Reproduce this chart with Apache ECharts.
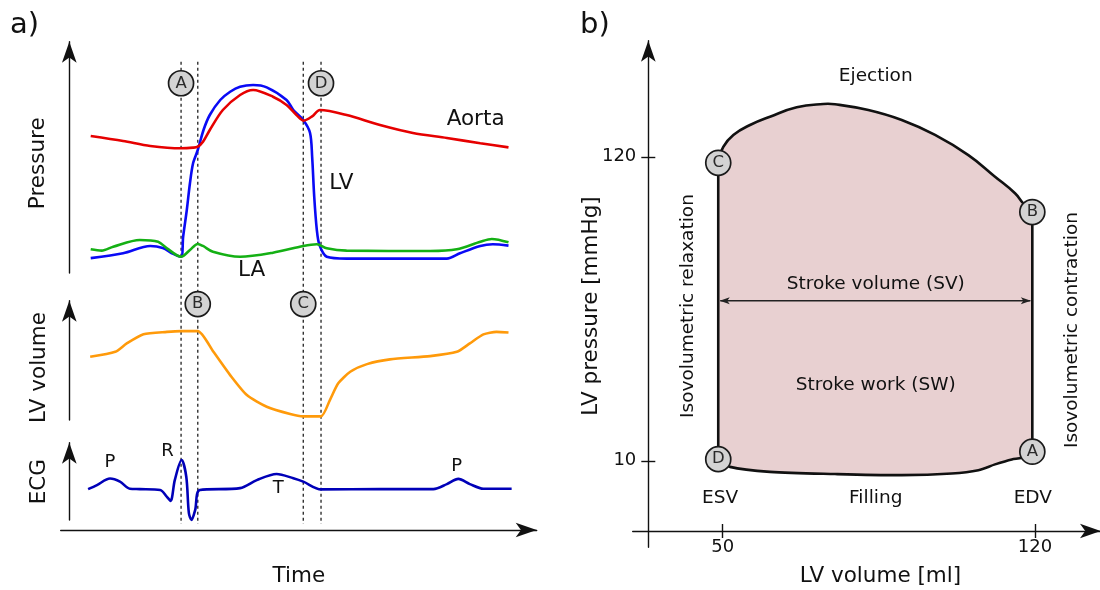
<!DOCTYPE html>
<html>
<head>
<meta charset="utf-8">
<script src="https://cdn.jsdelivr.net/npm/echarts@6/dist/echarts.min.js"></script>
<style>
  html, body { margin: 0; padding: 0; background: #ffffff; }
  #chart { width: 1100px; height: 590px; }
</style>
</head>
<body>
<div id="chart"></div>
<script>
// ---------- a) Wiggers diagram: one cardiac cycle, time in ms ----------
const eventNames = ['A', 'B', 'C', 'D'];
const eventTimes = [174, 206, 408, 442];          // mitral closes, aortic opens, aortic closes, mitral opens

const aortaTime = [1, 63, 115, 174, 197, 206, 216, 229, 254, 287, 312, 350, 376, 395, 409, 425, 440, 491, 555, 618, 683, 747, 801];
const aortaPressure = [87.7, 84.5, 81.3, 79.8, 80.2, 80.8, 84.0, 91.5, 104.3, 113.9, 117.1, 112.8, 107.5, 101.1, 97.5, 100.2, 104.3, 101.1, 94.7, 89.6, 86.4, 83.0, 80.4];

const lvTime = [1, 63, 115, 139, 159, 174, 178, 185, 191, 197, 206, 217, 229, 249, 268, 287, 312, 338, 376, 389, 408, 421, 425, 429, 434, 439, 453, 491, 683, 708, 747, 771, 801];
const lvPressure = [9.5, 12.6, 17.3, 16.0, 12.2, 10.4, 23.2, 40.3, 57.4, 70.2, 78.7, 91.5, 101.1, 110.7, 116.0, 119.2, 120.3, 118.8, 110.7, 104.3, 97.9, 89.6, 74.5, 48.8, 27.5, 17.9, 10.4, 9.2, 9.2, 12.6, 17.3, 18.4, 17.5];

const laTime = [1, 22, 44, 95, 130, 147, 174, 191, 206, 216, 235, 287, 350, 408, 434, 453, 491, 651, 702, 747, 769, 801];
const laPressure = [15.2, 14.3, 16.8, 21.1, 20.0, 15.8, 10.4, 14.7, 18.6, 17.3, 13.6, 10.4, 13.0, 17.3, 18.4, 15.8, 14.3, 14.1, 15.2, 20.0, 21.8, 19.6];

const volumeTime = [0, 48, 70, 102, 147, 174, 206, 236, 268, 300, 338, 383, 408, 442, 459, 475, 498, 530, 574, 651, 702, 727, 753, 778, 801];
const lvVolume = [98.9, 103.0, 109.9, 117.5, 119.4, 120, 120, 103.0, 83.9, 67.5, 57.9, 51.9, 50, 50, 63.4, 77.1, 86.6, 92.9, 96.8, 99.5, 103.0, 109.9, 117.3, 119.4, 118.9];

const ecgTime = [-4, 13, 38, 57, 76, 95, 134, 147, 154, 162, 175, 184, 189, 194, 201, 210, 287, 319, 357, 389, 408, 442, 555, 657, 683, 705, 727, 753, 807];
const ecgValue = [0, 0.13, 0.34, 0.24, 0.01, 0, -0.03, -0.25, -0.38, 0.29, 0.94, 0.40, -0.78, -1.0, -0.68, -0.03, 0.03, 0.29, 0.49, 0.35, 0.24, -0.01, 0, 0, 0.16, 0.33, 0.16, 0.01, 0.01];

// ---------- b) pressure-volume loop ----------
const ejectionVolume = [49.0, 50.13, 52.38, 56.12, 60.6, 66.59, 72.55, 75.17, 82.64, 90.13, 97.59, 105.06, 111.04, 115.52, 117.38, 119.4];
const ejectionPressure = [117.8, 123.6, 127.9, 131.5, 134.5, 137.9, 139.1, 139.0, 136.9, 133.3, 127.9, 120.6, 112.8, 106.8, 103.1, 100.0];
const fillingVolume = [119.4, 117.03, 114.79, 111.04, 107.3, 101.33, 90.13, 75.17, 60.6, 51.64, 49.0];
const fillingPressure = [13.3, 11.1, 10.5, 8.7, 6.6, 5.4, 4.8, 5.2, 6.0, 7.8, 10.6];
const loopPointNames = ['A', 'B', 'C', 'D'];
const loopPointVolume = [119.4, 119.4, 49.0, 49.0];
const loopPointPressure = [13.3, 100.0, 117.8, 10.6];
const volumeTicks = [50, 120];
const pressureTicks = [10, 120];

// ---------- annotation anchors (in data units) ----------
const pressureNotes = [
  { name: 'Aorta', value: [738, 98.4] },
  { name: 'LV', value: [481, 57.4] },
  { name: 'LA', value: [309, 1.9] }
];
const ecgNotes = [
  { name: 'P', value: [38, 0.85] },
  { name: 'R', value: [148, 1.23] },
  { name: 'T', value: [360, 0.03] },
  { name: 'P', value: [702, 0.75] }
];
const eventMarkPressure = 121.4;   // circles A / D sit above the pressure traces
const eventMarkVolume = 142.2;     // circles B / C sit above the volume trace
const svArrowPressure = 67.9;
const loopNotes = [
  { name: 'Ejection', value: [84.3, 149.0] },
  { name: 'Stroke volume (SV)', value: [84.3, 73.8] },
  { name: 'Stroke work (SW)', value: [84.3, 37.2] },
  { name: 'Filling', value: [84.3, -3.6] },
  { name: 'ESV', value: [49.4, -3.7] },
  { name: 'EDV', value: [119.5, -3.7] },
  { name: 'Isovolumetric relaxation', value: [42.3, 66.0], label: { rotate: 90 } },
  { name: 'Isovolumetric contraction', value: [128.4, 57.3], label: { rotate: 90 } }
];

const FONT = 'DejaVu Sans';
const INK = '#111111';
const zip = (xs, ys) => xs.map((x, i) => [x, ys[i]]);

const arrowLine = {
  show: true, onZero: false,
  symbol: ['none', 'arrow'], symbolSize: [11, 21], symbolOffset: [0, 0],
  lineStyle: { color: INK, width: 1.4 }
};
const off = { show: false };
function hiddenAxis(gridIndex, min, max) {
  return { type: 'value', gridIndex, min, max, show: false, axisLine: { show: false, onZero: false }, splitLine: off };
}
function arrowAxis(gridIndex, min, max, position) {
  return { type: 'value', gridIndex, min, max, position, axisLine: arrowLine, axisTick: off, axisLabel: off, splitLine: off };
}
function trace(xi, times, values, color, z, smooth) {
  return {
    type: 'line', xAxisIndex: xi, yAxisIndex: xi, data: zip(times, values),
    symbol: 'none', showSymbol: false, smooth: smooth || 0.3, clip: false, silent: true, z,
    lineStyle: { color, width: 2.6 }, emphasis: { disabled: true }
  };
}
function textMarks(xi, data, size, z) {
  return {
    type: 'scatter', xAxisIndex: xi, yAxisIndex: xi, data, symbolSize: 1, silent: true, z,
    itemStyle: { color: 'transparent', opacity: 1 },
    label: { show: true, position: 'inside', formatter: '{b}', fontSize: size, fontFamily: FONT, color: INK, opacity: 1 },
    emphasis: { disabled: true }
  };
}
function circleMarks(xi, data, z) {
  return {
    type: 'scatter', xAxisIndex: xi, yAxisIndex: xi, data, symbol: 'circle', symbolSize: 25, silent: true, z,
    itemStyle: { color: '#d3d3d3', borderColor: '#1a1a1a', borderWidth: 1.7, opacity: 1 },
    label: { show: true, position: 'inside', formatter: '{b}', fontSize: 16.5, fontFamily: FONT, color: '#2a2a2a' },
    emphasis: { disabled: true }
  };
}
const gridBase = { show: false, containLabel: false, outerBoundsMode: 'none' };

const option = {
  animation: false,
  backgroundColor: '#ffffff',
  textStyle: { fontFamily: FONT },
  grid: [
    Object.assign({ left: 69.3, top: 41.7, width: 467.4, height: 231.3 }, gridBase),  // pressure
    Object.assign({ left: 69.3, top: 300.7, width: 467.4, height: 119.3 }, gridBase), // LV volume
    Object.assign({ left: 69.3, top: 442.7, width: 467.4, height: 77.3 }, gridBase),  // ECG
    Object.assign({ left: 60.7, top: 41.7, width: 476.0, height: 488.3 }, gridBase),  // time axis
    Object.assign({ left: 648.3, top: 40.7, width: 451.7, height: 506.6 }, gridBase), // PV loop
    Object.assign({ left: 632.7, top: 40.7, width: 468.3, height: 490.3 }, gridBase)  // LV volume axis
  ],
  xAxis: [
    hiddenAxis(0, -40, 855),
    hiddenAxis(1, -40, 855),
    hiddenAxis(2, -40, 855),
    arrowAxis(3, -56.5, 855, 'bottom'),
    hiddenAxis(4, 33.32, 134.57),
    {
      type: 'value', gridIndex: 5, min: 29.83, max: 134.80, position: 'bottom',
      axisLine: arrowLine,
      axisTick: { show: true, inside: false, length: 7, customValues: volumeTicks, lineStyle: { color: INK, width: 1.4 } },
      axisLabel: { show: true, customValues: volumeTicks, margin: 7, fontSize: 18, fontFamily: FONT, color: INK },
      splitLine: off
    },
    {
      type: 'value', gridIndex: 5, min: 29.83, max: 134.80, position: 'bottom',
      axisLine: { show: false, onZero: false },
      axisTick: { show: true, inside: true, length: 7, customValues: volumeTicks, lineStyle: { color: INK, width: 1.4 } },
      axisLabel: off, splitLine: off
    }
  ],
  yAxis: [
    arrowAxis(0, 0, 148, 'left'),
    arrowAxis(1, 47, 145, 'left'),
    arrowAxis(2, -1, 1.5, 'left'),
    hiddenAxis(3, 0, 1),
    {
      type: 'value', gridIndex: 4, min: -21.3, max: 162, position: 'left',
      axisLine: arrowLine,
      axisTick: { show: true, inside: false, length: 7, customValues: pressureTicks, lineStyle: { color: INK, width: 1.4 } },
      axisLabel: { show: true, customValues: pressureTicks, margin: 12, fontSize: 18, fontFamily: FONT, color: INK },
      splitLine: off
    },
    {
      type: 'value', gridIndex: 4, min: -21.3, max: 162, position: 'left',
      axisLine: { show: false, onZero: false },
      axisTick: { show: true, inside: true, length: 7, customValues: pressureTicks, lineStyle: { color: INK, width: 1.4 } },
      axisLabel: off, splitLine: off
    },
    hiddenAxis(5, 0, 1)
  ],
  series: [
    // dotted event markers spanning all three traces
    {
      type: 'custom', xAxisIndex: 3, yAxisIndex: 3, silent: true, z: 1, clip: false,
      data: eventTimes.map(t => [t, 0]),
      renderItem(params, api) {
        const x = api.coord([api.value(0), 0])[0];
        const cs = params.coordSys;
        return {
          type: 'line',
          shape: { x1: x, y1: cs.y + 20, x2: x, y2: cs.y + cs.height - 6 },
          style: { stroke: '#222222', lineWidth: 1.3, lineDash: [3, 3] }
        };
      }
    },
    trace(0, lvTime, lvPressure, '#0a0af5', 3),
    trace(0, laTime, laPressure, '#14b014', 4),
    trace(0, aortaTime, aortaPressure, '#e60000', 5),
    trace(1, volumeTime, lvVolume, '#ff9a0a', 3, 0.22),
    trace(2, ecgTime, ecgValue, '#0000b8', 3),
    textMarks(0, pressureNotes, 21.5, 6),
    textMarks(2, ecgNotes, 18, 6),
    circleMarks(0, [0, 3].map(i => ({ name: eventNames[i], value: [eventTimes[i], eventMarkPressure] })), 10),
    circleMarks(1, [1, 2].map(i => ({ name: eventNames[i], value: [eventTimes[i], eventMarkVolume] })), 10),
    // PV loop: filled area, ejection and filling limbs, isovolumetric walls, SV arrow
    {
      type: 'custom', xAxisIndex: 4, yAxisIndex: 4, silent: true, z: 2, clip: false,
      data: [[80, 60]],
      renderItem(params, api) {
        const top = ejectionVolume.map((v, i) => api.coord([v, ejectionPressure[i]]));
        const bottom = fillingVolume.map((v, i) => api.coord([v, fillingPressure[i]]));
        const edge = { stroke: INK, lineWidth: 2.6, fill: null };
        const esv = fillingVolume[fillingVolume.length - 1];
        const edv = fillingVolume[0];
        const a0 = api.coord([esv, svArrowPressure]);
        const a1 = api.coord([edv, svArrowPressure]);
        const ah = 10, aw = 3.5, ink = '#222222';
        return {
          type: 'group',
          children: [
            { type: 'polygon', shape: { points: top.concat(bottom) }, style: { fill: '#e8d0d1', stroke: null } },
            { type: 'polyline', shape: { points: top, smooth: 0.45 }, style: edge },
            { type: 'polyline', shape: { points: bottom, smooth: 0.3 }, style: edge },
            { type: 'line', shape: { x1: top[top.length - 1][0], y1: top[top.length - 1][1], x2: bottom[0][0], y2: bottom[0][1] }, style: edge },
            { type: 'line', shape: { x1: bottom[bottom.length - 1][0], y1: bottom[bottom.length - 1][1], x2: top[0][0], y2: top[0][1] }, style: edge },
            { type: 'line', shape: { x1: a0[0] + 2, y1: a0[1], x2: a1[0] - 2, y2: a1[1] }, style: { stroke: ink, lineWidth: 1.3 } },
            { type: 'polygon', shape: { points: [[a0[0] + 1.5, a0[1]], [a0[0] + 1.5 + ah, a0[1] - aw], [a0[0] + 1.5 + ah * 0.75, a0[1]], [a0[0] + 1.5 + ah, a0[1] + aw]] }, style: { fill: ink } },
            { type: 'polygon', shape: { points: [[a1[0] - 1.5, a1[1]], [a1[0] - 1.5 - ah, a1[1] - aw], [a1[0] - 1.5 - ah * 0.75, a1[1]], [a1[0] - 1.5 - ah, a1[1] + aw]] }, style: { fill: ink } }
          ]
        };
      }
    },
    textMarks(4, loopNotes, 18.5, 6),
    circleMarks(4, loopPointNames.map((n, i) => ({ name: n, value: [loopPointVolume[i], loopPointPressure[i]] })), 10)
  ],
  graphic: [
    { type: 'text', x: 10, y: 25, style: { text: 'a)', font: '29px "DejaVu Sans"', fill: INK, align: 'left', verticalAlign: 'middle' } },
    { type: 'text', x: 580, y: 25, style: { text: 'b)', font: '29px "DejaVu Sans"', fill: INK, align: 'left', verticalAlign: 'middle' } },
    { type: 'text', x: 38.6, y: 163.3, rotation: Math.PI / 2, style: { text: 'Pressure', font: '21.5px "DejaVu Sans"', fill: INK, align: 'center', verticalAlign: 'middle' } },
    { type: 'text', x: 39.5, y: 367.5, rotation: Math.PI / 2, style: { text: 'LV volume', font: '21.5px "DejaVu Sans"', fill: INK, align: 'center', verticalAlign: 'middle' } },
    { type: 'text', x: 39.5, y: 481.7, rotation: Math.PI / 2, style: { text: 'ECG', font: '21.5px "DejaVu Sans"', fill: INK, align: 'center', verticalAlign: 'middle' } },
    { type: 'text', x: 298.8, y: 576, style: { text: 'Time', font: '21.5px "DejaVu Sans"', fill: INK, align: 'center', verticalAlign: 'middle' } },
    { type: 'text', x: 591.7, y: 306, rotation: Math.PI / 2, style: { text: 'LV pressure [mmHg]', font: '21.5px "DejaVu Sans"', fill: INK, align: 'center', verticalAlign: 'middle' } },
    { type: 'text', x: 880.5, y: 576, style: { text: 'LV volume [ml]', font: '21.5px "DejaVu Sans"', fill: INK, align: 'center', verticalAlign: 'middle' } }
  ]
};

const chart = echarts.init(document.getElementById('chart'), null, { renderer: 'canvas' });
chart.setOption(option);
</script>
</body>
</html>
